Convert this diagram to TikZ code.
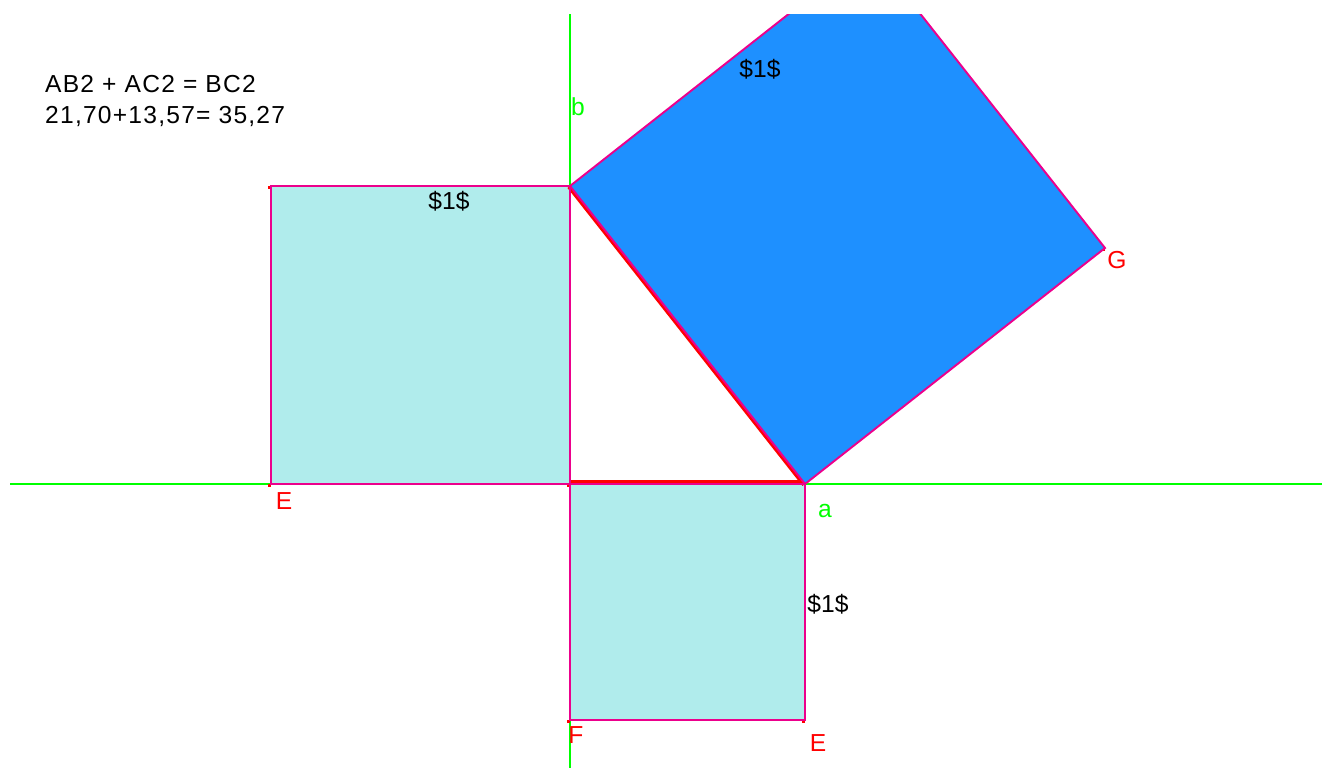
\documentclass[tikz,border=0pt]{standalone}
\usepackage{fontspec}
\setmainfont{Liberation Sans}
\usetikzlibrary{calc}
\definecolor{paleblue}{HTML}{B0ECEC}
\definecolor{dodger}{HTML}{1E90FF}
\definecolor{axisgreen}{HTML}{00FF00}
\begin{document}
\begin{tikzpicture}[x=0.02cm, y=-0.02cm, font=\fontsize{14}{17}\selectfont,
  sqside/.style={draw=magenta, line width=1.1pt},
  axisline/.style={draw=axisgreen, line width=0.8pt},
  vtxmark/.style={fill=red, inner sep=0pt, minimum size=0.07cm},
  formula/.style={anchor=base west, font=\fontsize{14}{17}\selectfont\addfontfeature{LetterSpace=5}}]
\useasboundingbox (0,0) rectangle (1324,769);
\begin{scope}
\clip (0,14) rectangle (1324,769);

% points of the triangle and squares
\coordinate (A) at (570,484);
\coordinate (a) at (805,484);
\coordinate (b) at (570,186);
\coordinate (E1) at (271,484);
\coordinate (D1) at (271,186);
\coordinate (F) at (570,720);
\coordinate (E2) at (805,720);
\coordinate (G) at (1105,248);
\coordinate (H) at (870,-50);

% axes
\draw[axisline] (10,484) -- (1322,484);
\draw[axisline] (570,14) -- (570,768);

% small point marks
\foreach \p in {A,a,b,E1,D1,F,E2,G}
  \node[vtxmark] at ($(\p)+(-1.5,1.5)$) {};

% squares on the legs
\fill[paleblue] (E1) rectangle (b);
\fill[paleblue] (A) rectangle (E2);

% red sides
\draw[red, line width=2.2pt] ($(A)+(0,-2)$) -- ($(a)+(0,-2)$);
\draw[red, line width=1.8pt] ($(b)+(-1.3,1)$) -- ($(a)+(-1.3,1)$);

\draw[sqside] (E1) -- (D1) -- (b) -- (A) -- cycle;
\draw[sqside] (A) -- (a) -- (E2) -- (F) -- cycle;

% square on the hypotenuse
\filldraw[fill=dodger, sqside] (b) -- (a) -- (G) -- (H) -- cycle;
\end{scope}

% labels
\node[formula] (t1) at (39,92) {AB2 + AC2 = BC2};
\node[formula] (t2) at (39,123) {21,70+13,57= 35,27};

\node (s1) at (760,69) {\$1\$};
\node (s2) at (449,201) {\$1\$};
\node (s3) at (828,604) {\$1\$};

\node[axisgreen] (lb) at (578,107) {b};
\node[axisgreen] (la) at (825,511) {a};
\node[red] (lE1) at (284,501) {E};
\node[red] (lE2) at (818,743) {E};
\node[red] (lF) at (576,735) {F};
\node[red] (lG) at (1117,260) {G};
\end{tikzpicture}
\end{document}
